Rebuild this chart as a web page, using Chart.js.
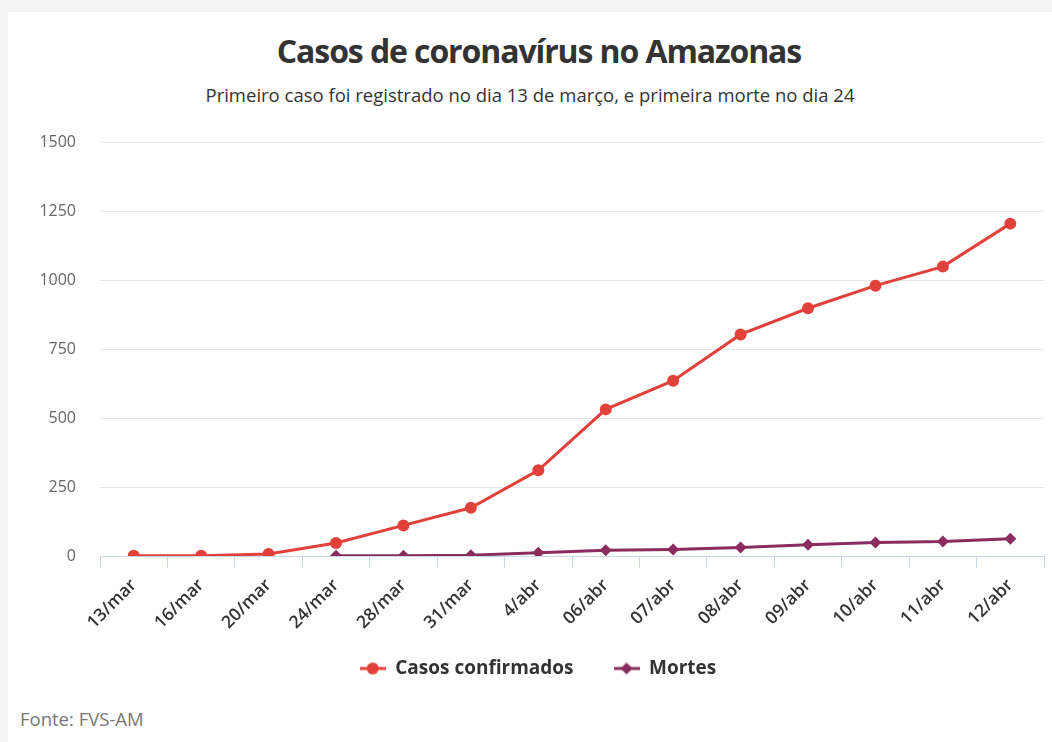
<!DOCTYPE html>
<html lang="pt-BR">
<head>
<meta charset="utf-8">
<title>Casos de coronavírus no Amazonas</title>
<script src="https://cdn.jsdelivr.net/npm/chart.js@4.4.1/dist/chart.umd.min.js"></script>
<style>
  html, body {
    margin: 0;
    padding: 0;
    background: #f3f3f3;
    font-family: 'Open Sans', sans-serif;
  }
  .card {
    position: absolute;
    left: 8px;
    top: 12px;
    width: 1044px;
    height: 730px;
    background: #fff;
  }
  .card h1 {
    position: absolute;
    left: 0;
    right: 0;
    top: 17px;
    margin: 0;
    padding-left: 18px;
    text-align: center;
    font-size: 32px;
    font-weight: 700;
    color: #333;
    letter-spacing: -1.1px;
  }
  .card .subtitle {
    position: absolute;
    left: 0;
    right: 0;
    top: 70px;
    text-align: center;
    font-size: 18.5px;
    color: #333;
  }
  .chart-wrap {
    position: absolute;
    left: 0;
    top: 97px;
    width: 1044px;
    height: 597px;
  }
  .source {
    position: absolute;
    left: 12px;
    top: 694px;
    font-size: 18.5px;
    color: #777;
  }
</style>
</head>
<body>
<div class="card">
  <h1>Casos de coronavírus no Amazonas</h1>
  <div class="subtitle">Primeiro caso foi registrado no dia 13 de março, e primeira morte no dia 24</div>
  <div class="chart-wrap"><canvas id="chart"></canvas></div>
  <div class="source">Fonte: FVS-AM</div>
</div>

<script>
// Chart data
const dates = ['13/mar', '16/mar', '20/mar', '24/mar', '28/mar', '31/mar', '4/abr',
  '06/abr', '07/abr', '08/abr', '09/abr', '10/abr', '11/abr', '12/abr'];
const confirmedCases = [1, 1, 7, 47, 111, 175, 311, 532, 636, 804, 899, 981, 1050, 1206];
const deaths = [null, null, null, 1, 1, 3, 12, 21, 24, 31, 41, 49, 53, 63];
const yTicks = [0, 250, 500, 750, 1000, 1250, 1500];

const RED = '#e2403a';
const PURPLE = '#8a2c5e';

// Small legend icon: line with the marker on it
const legendIcon = (color, shape) => {
  const c = document.createElement('canvas');
  c.width = 26;
  c.height = 14;
  const g = c.getContext('2d');
  g.strokeStyle = color;
  g.fillStyle = color;
  g.lineWidth = 3;
  g.beginPath();
  g.moveTo(0, 7);
  g.lineTo(26, 7);
  g.stroke();
  g.beginPath();
  if (shape === 'circle') {
    g.arc(13, 7, 6, 0, Math.PI * 2);
  } else {
    g.moveTo(13, 1);
    g.lineTo(19, 7);
    g.lineTo(13, 13);
    g.lineTo(7, 7);
    g.closePath();
  }
  g.fill();
  return c;
};

// Move the legend a bit right and up, like the original
const legendShift = {
  id: 'legendShift',
  afterLayout: (chart) => {
    const lg = chart.legend;
    if (lg) {
      lg.left += 12;
      lg.right += 12;
      lg.top -= 18;
      lg.bottom -= 18;
    }
  }
};

document.addEventListener('DOMContentLoaded', () => {
  const ctx = document.getElementById('chart').getContext('2d');

  new Chart(ctx, {
    type: 'line',
    data: {
      labels: dates,
      datasets: [{
        label: 'Casos confirmados',
        data: confirmedCases,
        borderColor: RED,
        backgroundColor: RED,
        borderWidth: 3,
        pointStyle: 'circle',
        pointRadius: 6,
        pointBorderWidth: 0,
        tension: 0
      }, {
        label: 'Mortes',
        data: deaths,
        borderColor: PURPLE,
        backgroundColor: PURPLE,
        borderWidth: 3,
        pointStyle: 'rectRot',
        pointRadius: 6,
        pointBorderWidth: 0,
        tension: 0
      }]
    },
    plugins: [legendShift],
    options: {
      responsive: true,
      maintainAspectRatio: false,
      animation: false,
      layout: {
        padding: { top: 3, right: 8, bottom: 0, left: 0 }
      },
      plugins: {
        tooltip: { enabled: false },
        legend: {
          position: 'bottom',
          labels: {
            usePointStyle: true,
            pointStyleWidth: 26,
            padding: 40,
            color: '#333',
            font: { family: 'Open Sans', size: 19, weight: 700 },
            generateLabels: (chart) => chart.data.datasets.map((ds, i) => ({
              text: ds.label,
              pointStyle: legendIcon(ds.borderColor, ds.pointStyle),
              fillStyle: ds.borderColor,
              strokeStyle: ds.borderColor,
              lineWidth: 0,
              fontColor: '#333',
              datasetIndex: i,
              hidden: false
            }))
          }
        }
      },
      scales: {
        y: {
          min: 0,
          max: 1500,
          afterFit: (scale) => { scale.width = 92; },
          afterBuildTicks: (scale) => {
            scale.ticks = yTicks.map(v => ({ value: v }));
          },
          border: { display: false },
          grid: {
            color: '#e6e6e6',
            drawTicks: false
          },
          ticks: {
            padding: 24,
            color: '#666',
            font: { family: 'Open Sans', size: 16 },
            callback: (v) => String(v)
          }
        },
        x: {
          offset: true,
          afterFit: (scale) => { scale.height = 81; },
          border: { display: true, color: '#ccd6eb', width: 1 },
          grid: {
            offset: true,
            drawOnChartArea: false,
            drawTicks: true,
            tickLength: 12,
            color: '#ccd6eb'
          },
          ticks: {
            minRotation: 45,
            maxRotation: 45,
            padding: 7,
            color: '#333',
            font: { family: 'Open Sans', size: 17.5, weight: 600 }
          }
        }
      }
    }
  });
});
</script>
</body>
</html>
